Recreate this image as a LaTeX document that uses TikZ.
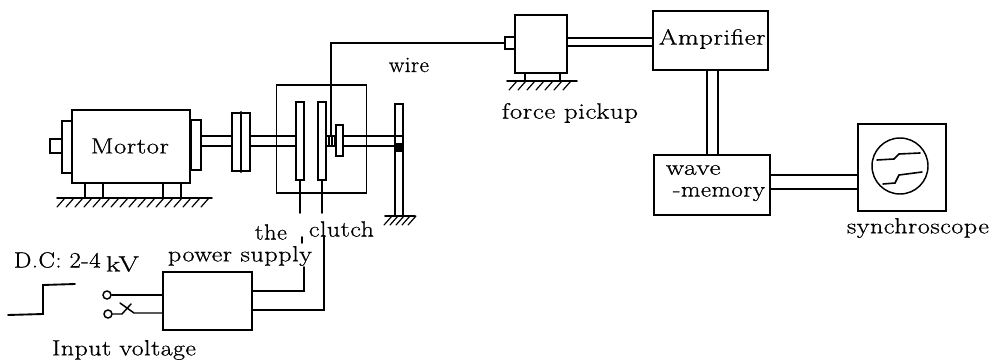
\documentclass[tikz,border=0pt]{standalone}
\usepackage{fontspec}
\setmainfont[LetterSpace=2,BoldFont={Latin Modern Roman},BoldFeatures={FakeBold=0.7}]{Latin Modern Roman}
\begin{document}
\begin{tikzpicture}[x=0.75pt,y=-0.75pt,line width=1.4pt,line cap=round,
 bx/.style={draw,inner sep=0pt,fill=white},
 lab/.style={font=\fontsize{16.5pt}{19pt}\selectfont\bfseries},
 txt/.style={inner sep=0pt,anchor=west,lab,align=left},
 thin line/.style={line width=1.1pt}]
\useasboundingbox (0,0) rectangle (992,360);
\newcommand{\hatch}[3]{\foreach \hx in {#1,#3,...,#2} {\draw[line width=0.9pt] (\hx,\hy) -- ++(-8,9);}}
\newcommand{\fw}[2]{\resizebox{#1}{\height}{#2}}
% ---- motor group
\node[bx,minimum width=9pt,minimum height=10pt] (stub) at (56,146) {};
\node[bx,minimum width=8pt,minimum height=39pt] (lfl) at (67,147) {};
\node[bx,minimum width=8pt,minimum height=38pt] (rfl) at (196,145) {};
\node[bx,minimum width=88pt,minimum height=55pt] (motor) at (131,146.5) {};
\node[txt] (mtxt) at (90,146) {\fw{58.5pt}{Mortor}};
\coordinate (fa1) at (85,198); \coordinate (fa2) at (103,198);
\coordinate (fb1) at (163,198); \coordinate (fb2) at (181,198);
\draw (fa1) -- (fa1 |- motor.south) (fa2) -- (fa2 |- motor.south) (fb1) -- (fb1 |- motor.south) (fb2) -- (fb2 |- motor.south);
\coordinate (g1a) at (57,198); \coordinate (g1b) at (212,198);
\draw (g1a) -- (g1b);
\def\hy{198}\hatch{65}{210}{74}
% ---- coupling
\node[bx,minimum width=13.5pt,minimum height=44pt] (cpl) at (241,142) {};
\draw[line width=0.9pt] (cpl.north) -- (cpl.south);
\coordinate (s1) at (0,136); \coordinate (s2) at (0,146);
\draw (rfl.east |- s1) -- (cpl.west |- s1) (rfl.east |- s2) -- (cpl.west |- s2);
% ---- clutch housing
\node[draw,inner sep=0pt,minimum width=67.5pt,minimum height=81pt] (house) at (321.5,139) {};
\node[bx,minimum width=6pt,minimum height=58.5pt] (p1) at (300,141) {};
\node[bx,minimum width=6pt,minimum height=58.5pt] (p2) at (322,141) {};
\node[bx,minimum width=5.25pt,minimum height=23pt] (disc) at (339.5,140.5) {};
\node[bx,minimum width=6pt,minimum height=84pt] (post) at (399,160) {};
\draw (cpl.east |- s1) -- (p1.west |- s1) (cpl.east |- s2) -- (p1.west |- s2);
\draw (p2.east |- s1) -- (disc.west |- s1) (p2.east |- s2) -- (disc.west |- s2);
\draw[line width=0.9pt] (329,136) -- (329,146) (332,136) -- (332,146) (335,136) -- (335,146);
\draw (disc.east |- s1) -- (post.west |- s1) (disc.east |- s2) -- (post.west |- s2);
\fill (395,143) rectangle (403,152);
\draw (395,136) -- (403,136);
\coordinate (g2a) at (385,216); \coordinate (g2b) at (415,216);
\draw (g2a) -- (g2b);
\foreach \hx in {392,398,...,416} {\draw[line width=0.9pt] (\hx,216) -- ++(-8,9);}
% ---- force pickup
\node[bx,minimum width=39pt,minimum height=43.5pt] (fp) at (541,44) {};
\node[bx,minimum width=7.5pt,minimum height=9pt] (fps) at (510,43) {};
\coordinate (wc) at (331,43);
\coordinate (wb) at (331,135);
\draw[thin line] (fps.west) -- (wc) -- (wb);
\coordinate (ff1) at (525,81); \coordinate (ff2) at (560,81);
\draw[line width=1pt] (ff1) -- (ff1 |- fp.south) (ff2) -- (ff2 |- fp.south);
\coordinate (g3a) at (507,81); \coordinate (g3b) at (577,81);
\draw (g3a) -- (g3b);
\foreach \hx in {517,526,...,572} {\draw[line width=0.9pt] (\hx,81) -- ++(-8,9);}
% ---- amplifier
\node[bx,minimum width=86pt,minimum height=44pt,anchor=west] (amp) at (652,40.5) {};
\node[txt] (amptxt) at (658,39) {\fw{80pt}{Amprifier}};
\coordinate (a1) at (0,38); \coordinate (a2) at (0,46);
\draw (fp.east |- a1) -- (amp.west |- a1) (fp.east |- a2) -- (amp.west |- a2);
% ---- wave memory
\node[bx,minimum width=87pt,minimum height=45pt] (wm) at (712,185) {};
\node[txt] (wmt1) at (665,170) {\fw{41pt}{wave}};
\node[txt] (wmt2) at (672,194) {\fw{69pt}{-memory}};
\coordinate (b1) at (707,0); \coordinate (b2) at (718,0);
\draw (b1 |- amp.south) -- (b1 |- wm.north) (b2 |- amp.south) -- (b2 |- wm.north);
% ---- synchroscope
\node[bx,minimum width=66pt,minimum height=65pt] (scope) at (902,167.5) {};
\node[draw,circle,inner sep=0pt,minimum size=42pt,line width=1.1pt] (crt) at (900,166) {};
\draw[line width=1.2pt] (877,160) -- (894,159) -- (899,154) -- (920,153);
\draw[line width=1.2pt] (883,184) -- (895,183) -- (899,175) -- (922,172);
\coordinate (c1) at (0,175); \coordinate (c2) at (0,189);
\draw (wm.east |- c1) -- (scope.west |- c1) (wm.east |- c2) -- (scope.west |- c2);
% ---- power supply
\node[bx,minimum width=67pt,minimum height=43pt] (ps) at (207.5,301) {};
\node[draw,circle,inner sep=0pt,minimum size=6pt,line width=1.1pt] (t1) at (107,295) {};
\node[draw,circle,inner sep=0pt,minimum size=6pt,line width=1.1pt] (t2) at (108,314) {};
\coordinate (sw1) at (122,314);
\coordinate (sw2) at (134,313);
\draw (t1.east) -- (ps.west |- t1);
\draw[thin line] (t2.east) -- (sw1) -- (131,304);
\draw[thin line] (120,303) -- (sw2) -- (ps.west |- sw2);
\coordinate (o1) at (304,291); \coordinate (o1t) at (304,267);
\coordinate (o2) at (324,310); \coordinate (o2t) at (324,236);
\coordinate (q1) at (p1.south |- 0,213); \coordinate (q2) at (p2.south |- 0,213);
\draw (ps.east |- o1) -- (o1) -- (o1t);
\draw (ps.east |- o2) -- (o2) -- (o2t);
\draw (302,237) -- (302,243);
\draw (p1.south) -- (q1);
\draw (p2.south) -- (q2);
% ---- step
\coordinate (st1) at (8,315); \coordinate (st2) at (43,314); \coordinate (st3) at (43,285); \coordinate (st4) at (75,284);
\draw (st1) -- (st2) -- (st3) -- (st4);
% ---- labels
\node[txt] (lwire) at (388,65) {\fw{30pt}{wire}};
\node[txt] (lfp) at (501,113) {\fw{102pt}{force pickup}};
\node[txt] (lsyn) at (846,228) {\fw{106.5pt}{synchroscope}};
\node[txt] (lthe) at (254,232) {\fw{24pt}{the}};
\node[txt] (lcl) at (308,229) {\fw{48.75pt}{clutch}};
\node[txt] (lps) at (167,256) {\fw{108pt}{power supply}};
\node[txt] (ldc) at (13,260) {\fw{65pt}{D.C: 2-4}};
\node[txt] (lkv) at (105,264) {\fw{24.75pt}{kV}};
\node[txt] (lin) at (51,350) {\fw{108pt}{Input voltage}};
\end{tikzpicture}
\end{document}
